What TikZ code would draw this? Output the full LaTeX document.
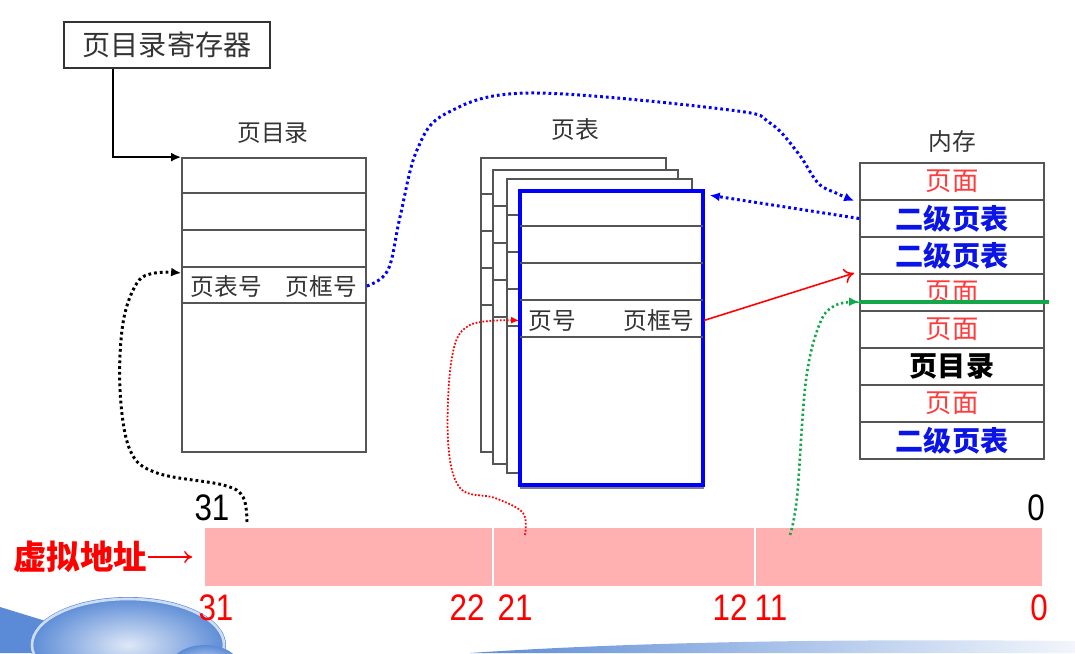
\documentclass[tikz,border=0pt]{standalone}
\usepackage{fontspec}
\setmainfont{Noto Sans CJK SC}
\newfontfamily\numfont{Liberation Sans}[FakeStretch=0.85]
\usetikzlibrary{arrows.meta}
\definecolor{gridgray}{HTML}{555555}
\definecolor{textgray}{HTML}{333333}
\definecolor{barpink}{HTML}{FFB0B0}
\definecolor{pagered}{HTML}{FF3B3B}
\definecolor{tblblue}{HTML}{0A14E6}
\definecolor{linegreen}{HTML}{12A84A}
\definecolor{decoblue}{HTML}{5B8BD6}

\begin{document}
\begin{tikzpicture}
[x=0.2mm, y=0.2mm, line width=1pt, font=\fontsize{13.5}{15}\selectfont,
cell/.style={rectangle, draw=gridgray, inner sep=0pt},
regbox/.style={cell, draw=black!80, minimum width=41.2mm, minimum height=9.2mm, text=textgray, font=\fontsize{16}{18}\selectfont},
dirbox/.style={cell, fill=white, minimum width=36.8mm, minimum height=58.8mm},
ptpage/.style={cell, fill=white, minimum width=37mm, minimum height=58.8mm},
ptfront/.style={cell, fill=white, draw=blue, line width=2pt, minimum width=36.6mm, minimum height=58.8mm},
rowtext/.style={rectangle, inner sep=0pt, minimum height=7.2mm, text=textgray},
title/.style={text=textgray, font=\fontsize{13.5}{15}\selectfont},
memcell/.style={cell, minimum width=36.8mm, minimum height=7.4mm},
pagecell/.style={memcell, text=pagered, font=\fontsize{15}{17}\selectfont},
tblcell/.style={memcell, text=tblblue, font=\fontsize{16}{18}\selectfont\bfseries},
dircell/.style={memcell, text=black, font=\fontsize{16}{18}\selectfont\bfseries},
barseg/.style={rectangle, fill=barpink, draw=white, line width=1pt, minimum height=12mm},
bitno/.style={inner sep=0pt, font=\numfont\fontsize{21}{23}\selectfont},
dots/.style={line width=1.7pt, dash pattern=on 0.55mm off 0.6mm},
thindots/.style={line width=1pt, dash pattern=on 0.35mm off 0.35mm},
tip/.style={-{Latex[length=2mm, width=1.8mm]}}]

\useasboundingbox (0,0) rectangle (1075,653);

\begin{scope}
\clip (0,0) rectangle (1075,653);
\fill[decoblue] (0,46) -- (0,0) -- (150,0) -- cycle;
\shade[inner color=decoblue!20, outer color=decoblue] (128,8) ellipse (98 and 48);
\draw[white, line width=1.5pt, opacity=0.7] (128,8) ellipse (96 and 46);
\shade[inner color=decoblue!20, outer color=decoblue] (205,-14) ellipse (35 and 22);
\shade[left color=decoblue, right color=decoblue!8] (470,0) .. controls (650,12) and (850,14) .. (1075,12) -- (1075,0) -- cycle;
\end{scope}

\node[regbox] (reg) at (167,608) {页目录寄存器};

\node[title] (pdtitle) at (273,520) {页目录};
\node[dirbox] (pd) at (274,348) {};
\foreach \d in {36,73,110,146}
  \draw[gridgray] ([yshift=-\d*0.2mm]pd.north west) -- ([yshift=-\d*0.2mm]pd.north east);
\node[rowtext, minimum width=36.8mm] (pdrow) at (274,367) {页表号\quad 页框号};

\draw[tip, line width=1.1pt] ([xshift=10mm]reg.south west) |- (pd.north west);

\node[title] (pttitle) at (575,523) {页表};
\foreach \i/\x/\y in {1/573.5/348, 2/585.5/336, 3/599.5/327} {
  \node[ptpage] (pt\i) at (\x,\y) {};
  \foreach \d in {37,74,111,148}
    \draw[gridgray] ([yshift=-\d*0.2mm]pt\i.north west) -- ([yshift=-\d*0.2mm]pt\i.north east);
}
\draw[gray, line width=1.2pt] (520,165) -- (704,165);
\node[ptfront] (pt4) at (611.5,315) {};
\foreach \d in {37,74,111,148}
  \draw[gridgray] ([yshift=-\d*0.2mm, xshift=0.4mm]pt4.north west) -- ([yshift=-\d*0.2mm, xshift=-0.4mm]pt4.north east);
\node[rowtext, minimum width=36.6mm] (ptrow) at (611.5,332.5) {页号\hspace{2em}页框号};

\node[title] (memtitle) at (952,511) {内存};
\foreach \i/\s/\t in {1/pagecell/页面, 2/tblcell/二级页表, 3/tblcell/二级页表, 4/pagecell/页面,
                      5/pagecell/页面, 6/dircell/页目录, 7/pagecell/页面, 8/tblcell/二级页表}
  \node[\s] (m\i) at (952,{471.5-37*(\i-1)}) {\t};
\coordinate (gl) at ([yshift=-1.9mm]m4.west);
\draw[linegreen, line width=2.2pt] (gl) -- ([yshift=-1.9mm, xshift=0.8mm]m4.east);

\node[barseg, minimum width=57.8mm] (bar1) at (348.5,96) {};
\node[barseg, minimum width=52.4mm] (bar2) at (624,96) {};
\node[barseg, minimum width=57.6mm] (bar3) at (899,96) {};
\node[text=red, inner sep=0pt, font=\fontsize{19}{21}\selectfont\bfseries] (va) at (80,96) {虚拟地址};
\draw[red, line width=0.8pt, -{To[length=1.6mm, width=2.4mm]}] (va.east) -- ([xshift=-2.2mm]bar1.west);

\node[bitno] (top31) at (212,145) {31};
\node[bitno] (top0) at (1036,145) {0};
\foreach \n/\x in {31/216, 22/467, 21/515, 12/730, 11/771, 0/1039}
  \node[bitno, text=red] (bit\n) at (\x,45) {\n};

\coordinate (s31) at (247,131);
\coordinate (s21) at (525,118);
\coordinate (s11) at (790,118);

\draw[dots, black, tip] plot[smooth, tension=0.6] coordinates {(s31) (243,156) (223,168) (157,180) (130,203) (120,263) (123,330) (137,370) (155,380) ([yshift=2.6mm]pdrow.west)};
\draw[dots, blue, tip] plot[smooth, tension=0.6] coordinates {(pdrow.east) (388,383) (400,436) (417,503) (447,540) (530,560) (730,543) (770,530) (798,500) (818,470) (836,460) ([xshift=-1mm]m1.south west)};
\draw[dots, blue, tip] (m2.west) -- ([xshift=1mm, yshift=-1.2mm]pt4.north east);
\draw[red, line width=0.9pt, -{To[length=2mm, width=3mm]}] (ptrow.east) -- ([xshift=-1mm]m4.north west);
\draw[thindots, red, -{Latex[length=1.6mm, width=1.4mm]}] plot[smooth, tension=0.6] coordinates {(s21) (523,140) (495,155) (460,165) (448,213) (452,296) (470,328) (ptrow.west)};
\draw[linegreen, line width=1.5pt, dash pattern=on 0.45mm off 0.55mm, -{Latex[length=2mm, width=1.8mm]}] plot[smooth, tension=0.6] coordinates {(s11) (797,156) (806,273) (820,330) (836,348) (gl)};
\end{tikzpicture}
\end{document}
